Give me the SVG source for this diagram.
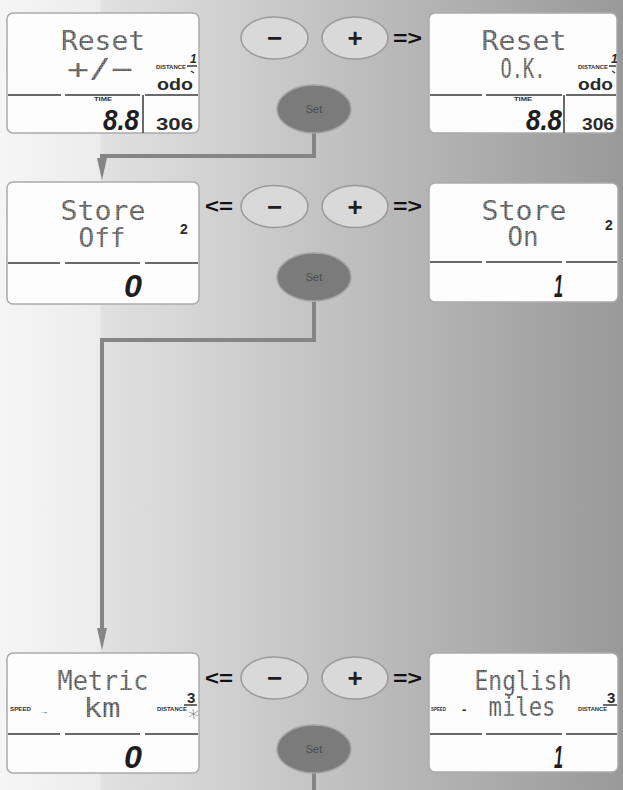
<svg xmlns="http://www.w3.org/2000/svg" width="623" height="790" viewBox="0 0 623 790">
<defs>
<linearGradient id="bg" x1="0" y1="0" x2="1" y2="0">
<stop offset="0" stop-color="#f5f5f5"/>
<stop offset="0.16" stop-color="#ececec"/>
<stop offset="0.163" stop-color="#e1e1e1"/>
<stop offset="1" stop-color="#999999"/>
</linearGradient>
<pattern id="dots" width="2.4" height="2.4" patternUnits="userSpaceOnUse">
<rect width="2.4" height="2.4" fill="#a2a2a2"/>
<circle cx="1.2" cy="1.2" r="1" fill="#444444"/>
</pattern>
<marker id="arr" viewBox="0 0 22 10" refX="0" refY="5" markerWidth="22" markerHeight="10" markerUnits="userSpaceOnUse" orient="auto">
<path d="M0,0 L22,5 L0,10 z" fill="#858585"/>
</marker>
</defs>
<style>
.lcd{fill:#fdfdfd;stroke:#aaaaaa;stroke-width:1.5}
.div{stroke:#3a3a3a;stroke-width:1.5;fill:none}
.dm{font-family:"DejaVu Sans Mono","Liberation Mono",monospace;font-size:26px;fill:url(#dots);text-anchor:middle}
.seg{font-family:"Liberation Sans",Arial,sans-serif;font-weight:bold;font-style:italic;fill:#1e1e1e}
.sm{font-family:"Liberation Sans",Arial,sans-serif;font-weight:bold;fill:#2a2a2a}
.tiny{font-family:"Liberation Sans",Arial,sans-serif;font-weight:bold;font-size:5px;fill:#333}
.btn{fill:#d9d9d9;stroke:#9a9a9a;stroke-width:1.5}
.set{fill:#7b7b7b;stroke:#a3a3a3;stroke-width:1.5}
.bl{font-family:"Liberation Sans",Arial,sans-serif;font-weight:bold;font-size:26px;fill:#1e1e1e;text-anchor:middle}
.ar{font-family:"Liberation Sans",Arial,sans-serif;font-weight:bold;font-size:21px;fill:#111}
.st{font-family:"Liberation Sans",Arial,sans-serif;font-size:11px;fill:#4a4a4a;text-anchor:middle}
.con{fill:none;stroke:#858585;stroke-width:4}
</style>
<rect x="0" y="0" width="623" height="790" fill="url(#bg)"/>

<g id="connectors">
<path class="con" d="M314,133 V156 H102 V158" marker-end="url(#arr)"/>
<path class="con" d="M314,302 V340 H102 V628" marker-end="url(#arr)"/>
<path class="con" d="M314,773 V790"/>
</g>

<!-- Row 1 -->
<g id="lcd-reset-pm">
<rect class="lcd" x="7" y="13" width="192" height="120" rx="6"/>
<text class="dm" x="103" y="50" textLength="84" lengthAdjust="spacingAndGlyphs">Reset</text>
<text class="dm" x="100" y="78" textLength="66" lengthAdjust="spacingAndGlyphs">+/−</text>
<text class="sm" x="190" y="63" font-size="12" font-style="italic">1</text>
<text class="tiny" x="156" y="69" textLength="30" lengthAdjust="spacingAndGlyphs">DISTANCE</text>
<path class="div" d="M187,66 H197 M191,71 L194,73" stroke-width="1"/>
<text class="sm" x="157" y="90" font-size="16" textLength="36" lengthAdjust="spacingAndGlyphs">odo</text>
<path class="div" d="M8,95 H61 M65,95 H140 M143,95 V133 M145,95 H198"/>
<text class="tiny" x="94" y="101" textLength="18" lengthAdjust="spacingAndGlyphs">TIME</text>
<text class="seg" x="103" y="130" font-size="30" textLength="36" lengthAdjust="spacingAndGlyphs">8.8</text>
<text class="sm" x="156" y="130" font-size="16" textLength="37" lengthAdjust="spacingAndGlyphs">306</text>
</g>

<g id="btn-minus-1">
<ellipse class="btn" cx="274.5" cy="38" rx="33.5" ry="21"/>
<text class="bl" x="274.5" y="47">−</text>
</g>
<g id="btn-plus-1">
<ellipse class="btn" cx="355" cy="38" rx="33" ry="21"/>
<text class="bl" x="355" y="47">+</text>
<text class="ar" x="393" y="45" textLength="29" lengthAdjust="spacingAndGlyphs">=&gt;</text>
</g>
<g id="btn-set-1">
<ellipse class="set" cx="314" cy="109" rx="37" ry="24"/>
<text class="st" x="314" y="113">Set</text>
</g>

<g id="lcd-reset-ok">
<rect class="lcd" x="429" y="13" width="188" height="120" rx="6"/>
<text class="dm" x="524" y="50" textLength="85" lengthAdjust="spacingAndGlyphs">Reset</text>
<text class="dm" x="523" y="78" textLength="45" lengthAdjust="spacingAndGlyphs">O.K.</text>
<text class="sm" x="611" y="63" font-size="12" font-style="italic">1</text>
<text class="tiny" x="578" y="69" textLength="30" lengthAdjust="spacingAndGlyphs">DISTANCE</text>
<path class="div" d="M609,66 H616 M612,71 L615,73" stroke-width="1"/>
<text class="sm" x="578" y="90" font-size="16" textLength="35" lengthAdjust="spacingAndGlyphs">odo</text>
<path class="div" d="M430,95 H482 M486,95 H562 M564,95 V133 M566,95 H616"/>
<text class="tiny" x="514" y="101" textLength="18" lengthAdjust="spacingAndGlyphs">TIME</text>
<text class="seg" x="526" y="130" font-size="30" textLength="36" lengthAdjust="spacingAndGlyphs">8.8</text>
<text class="sm" x="582" y="130" font-size="16" textLength="32" lengthAdjust="spacingAndGlyphs">306</text>
</g>

<!-- Row 2 -->
<g id="lcd-store-off">
<rect class="lcd" x="7" y="182" width="192" height="122" rx="6"/>
<text class="dm" x="103" y="220" textLength="85" lengthAdjust="spacingAndGlyphs">Store</text>
<text class="dm" x="102" y="247" textLength="47" lengthAdjust="spacingAndGlyphs">Off</text>
<text class="sm" x="180" y="234" font-size="14">2</text>
<path class="div" d="M8,263 H60 M65,263 H140 M145,263 H198"/>
<text class="seg" x="124" y="297" font-size="32" textLength="18" lengthAdjust="spacingAndGlyphs">0</text>
</g>

<g id="btn-minus-2">
<text class="ar" x="205" y="213" textLength="28" lengthAdjust="spacingAndGlyphs">&lt;=</text>
<ellipse class="btn" cx="274.5" cy="206.5" rx="33.5" ry="21"/>
<text class="bl" x="274.5" y="215.5">−</text>
</g>
<g id="btn-plus-2">
<ellipse class="btn" cx="355" cy="206.5" rx="33" ry="21"/>
<text class="bl" x="355" y="215.5">+</text>
<text class="ar" x="393" y="213" textLength="29" lengthAdjust="spacingAndGlyphs">=&gt;</text>
</g>
<g id="btn-set-2">
<ellipse class="set" cx="314" cy="277" rx="37" ry="24"/>
<text class="st" x="314" y="281">Set</text>
</g>

<g id="lcd-store-on">
<rect class="lcd" x="429" y="183" width="189" height="119" rx="6"/>
<text class="dm" x="524" y="220" textLength="85" lengthAdjust="spacingAndGlyphs">Store</text>
<text class="dm" x="523" y="246" textLength="31" lengthAdjust="spacingAndGlyphs">On</text>
<text class="sm" x="605" y="230" font-size="14">2</text>
<path class="div" d="M430,262 H482 M486,262 H562 M566,262 H617"/>
<text class="seg" x="554" y="297" font-size="32" textLength="9" lengthAdjust="spacingAndGlyphs">1</text>
</g>

<!-- Row 3 -->
<g id="lcd-metric">
<rect class="lcd" x="7" y="653" width="192" height="120" rx="6"/>
<text class="dm" x="103" y="690" textLength="91" lengthAdjust="spacingAndGlyphs">Metric</text>
<text class="dm" x="102" y="717" textLength="37" lengthAdjust="spacingAndGlyphs">km</text>
<text class="tiny" x="10" y="711" textLength="21" lengthAdjust="spacingAndGlyphs">SPEED</text>
<text class="sm" x="40" y="714" font-size="8">→</text>
<text class="sm" x="187" y="703" font-size="15">3</text>
<path class="div" d="M184,705 H197" stroke-width="1"/>
<text class="tiny" x="157" y="711" textLength="30" lengthAdjust="spacingAndGlyphs">DISTANCE</text>
<path d="M189,712 L198,716 M193,709 L194,719 M189,717 L198,711" stroke="#8a8a8a" stroke-width="0.8" fill="none"/>
<path class="div" d="M8,734 H60 M65,734 H140 M145,734 H198"/>
<text class="seg" x="124" y="768" font-size="32" textLength="18" lengthAdjust="spacingAndGlyphs">0</text>
</g>

<g id="btn-minus-3">
<text class="ar" x="205" y="685" textLength="28" lengthAdjust="spacingAndGlyphs">&lt;=</text>
<ellipse class="btn" cx="274.5" cy="678" rx="33.5" ry="21"/>
<text class="bl" x="274.5" y="687">−</text>
</g>
<g id="btn-plus-3">
<ellipse class="btn" cx="355" cy="678" rx="33" ry="21"/>
<text class="bl" x="355" y="687">+</text>
<text class="ar" x="393" y="685" textLength="29" lengthAdjust="spacingAndGlyphs">=&gt;</text>
</g>
<g id="btn-set-3">
<ellipse class="set" cx="314" cy="749" rx="37" ry="24"/>
<text class="st" x="314" y="753">Set</text>
</g>

<g id="lcd-english">
<rect class="lcd" x="429" y="653" width="189" height="119" rx="6"/>
<text class="dm" x="523" y="690" textLength="97" lengthAdjust="spacingAndGlyphs">English</text>
<text class="dm" x="522" y="716" textLength="67" lengthAdjust="spacingAndGlyphs">miles</text>
<text class="tiny" x="431" y="711" textLength="15" lengthAdjust="spacingAndGlyphs">SPEED</text>
<text class="sm" x="462" y="714" font-size="13">-</text>
<text class="sm" x="607" y="703" font-size="15">3</text>
<path class="div" d="M603,705 H617" stroke-width="1"/>
<text class="tiny" x="578" y="711" textLength="29" lengthAdjust="spacingAndGlyphs">DISTANCE</text>
<path class="div" d="M430,734 H482 M486,734 H562 M566,734 H617"/>
<text class="seg" x="554" y="768" font-size="32" textLength="9" lengthAdjust="spacingAndGlyphs">1</text>
</g>
</svg>
